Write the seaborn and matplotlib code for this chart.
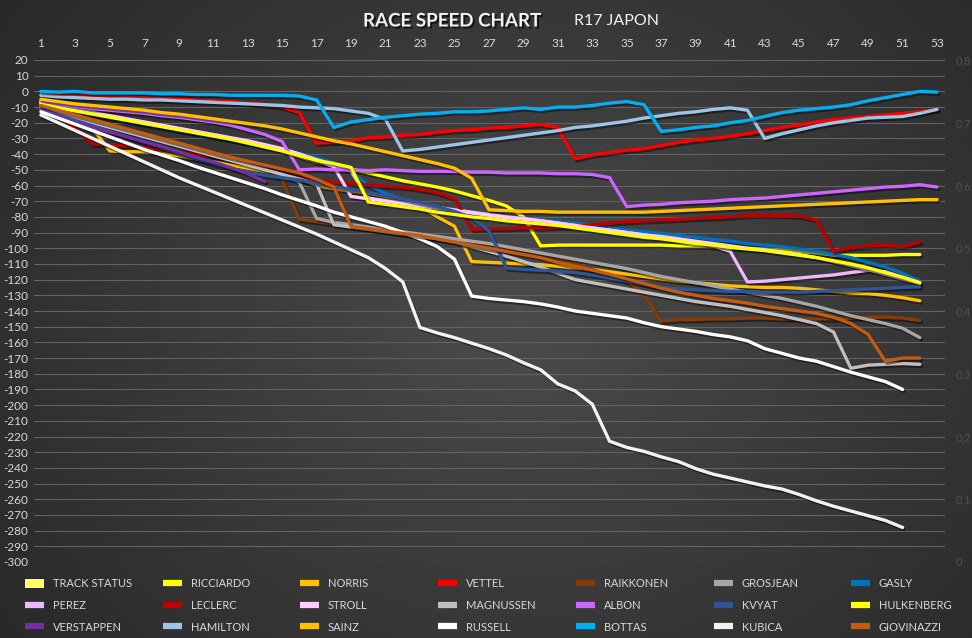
import numpy as np
import pandas as pd
import matplotlib
matplotlib.use("Agg")
import matplotlib.pyplot as plt
import matplotlib.patheffects as pe
from matplotlib.lines import Line2D
from matplotlib.patches import Patch
from matplotlib import font_manager as fm
import seaborn as sns

nan = np.nan
laps = list(range(1, 54))

# ---------------- data (gap values) ----------------
ricciardo = [-7, -9.5, -12, -14, -16, -18, -20, -22, -24, -26,
             -28, -30, -32.5, -35, -38, -41.5, -45, -47, -49.5, -52,
             -54.5, -57, -59, -61, -63.5, -66.5, -69.5, -73, -80, -98.5,
             -98, -98, -98, -98, -98, -98, -98, -98.5, -98.5, -99,
             -99.5, -100, -100.5, -101, -102, -103, -104.5, -104.5, -104.5, -104.5,
             -104, -104, nan]
norris = [-6, -13, -18.5, -23.5, -38, -38.5, -38.5, -39.5, -41, -43,
          -45, -47, -49, -51, -53.5, -56, -60, -62, -63.5, -65,
          -67, -69, -73, -80, -86, -108.5, -109, -109.5, -110, -110.5,
          -111.5, -112.5, -113.5, -115, -116.5, -118, -119.5, -121, -122, -123,
          -124, -124.5, -125, -125, -125.5, -126.5, -127.5, -128.5, -129, -130,
          -131.5, -133.5, nan]
vettel = [-2, -2.5, -2.5, -3, -3, -3.5, -4, -4.5, -5, -5.5,
          -6, -6.5, -7.5, -8.5, -10, -13.5, -33, -32.5, -31.5, -29.5,
          -29, -28, -27.5, -26, -25, -24.5, -23.5, -23, -22, -21,
          -23, -43, -40.5, -39, -37.5, -36.5, -34.5, -32.5, -31, -30,
          -28.5, -27, -25, -23, -21.5, -19.5, -18, -17, -16, -15,
          -14, -13, -11.5]
raikkonen = [-9, -12, -15, -18, -21, -24, -27, -30, -33, -36,
             -39, -42, -45.5, -49, -56, -81.5, -83, -84.5, -86, -87.5,
             -89, -90.5, -92, -93.5, -95, -97, -98.5, -100, -101.5, -103.5,
             -106.5, -110, -113.5, -117.5, -121, -129, -146.5, -145.5, -145.5, -145,
             -145, -144.5, -144.5, -145, -145, -145, -145, -144.5, -144, -144,
             -144.5, -146, nan]
grosjean = [-10, -13, -16, -19, -22, -25, -28, -31, -34, -37,
            -40, -43, -46, -49.5, -53, -58, -81, -83.5, -85, -86.5,
            -88, -89.5, -91, -92.5, -94, -95.5, -97, -99, -101, -103,
            -105, -107, -109, -111, -113, -115.5, -118, -120, -122, -124,
            -126, -128, -130, -132, -134.5, -137, -140, -143, -145.5, -148,
            -151, -157, nan]
gasly = [-9, -11, -13, -15, -17, -19, -21, -23, -25, -27,
         -29, -31, -33, -35, -37, -39.5, -42.5, -45.5, -51, -60,
         -65, -69, -72, -74.5, -76.5, -78, -79, -80, -81, -82,
         -83, -84, -85.5, -87, -88.5, -89.5, -90.5, -92, -93, -94.5,
         -95.5, -97, -98, -99, -100.5, -102, -104, -106, -109, -112,
         -116, -121, nan]
perez = [-7.5, -10, -12, -14, -16, -18, -20, -22, -24, -26,
         -28, -30, -32, -34.5, -37, -40, -43.5, -47, -51, -68,
         -69.5, -71, -72.5, -74, -75.5, -77, -78.5, -80, -81, -82.5,
         -84, -85.5, -87, -88.5, -90, -91.5, -93, -94.5, -96, -98.5,
         -102, -121.5, -121, -120, -119, -118, -117, -115.5, -114, -115,
         -118.5, -122, nan]
leclerc = [-8, -16, -23.5, -33.5, -34, -34.5, -35.5, -37, -38.5, -40,
           -41.5, -43, -45, -47, -49.5, -53, -57, -58, -59, -59.5,
           -60.5, -61, -62.5, -64.5, -68.5, -88, -87.5, -87.5, -87, -87,
           -86.5, -86, -85, -84, -83, -82.5, -82, -81.5, -81, -80.5,
           -80, -79, -79, -79, -79.5, -82, -102, -99.5, -98.5, -98,
           -99, -96, nan]
stroll = [-7, -9.5, -11.5, -13.5, -15.5, -17.5, -19.5, -21.5, -23.5, -25.5,
          -27.5, -29.5, -31.5, -34, -36.5, -40, -44, -48, -67, -68.5,
          -70, -71.5, -73, -74.5, -76, -77.5, -79, -80.5, -81.5, -82.5,
          -84, -85.5, -87, -88.5, -90, -91.5, -92.5, -94, -95.5, -97,
          -98.5, -100, -101, -102.5, -104, -106, -108.5, -111, -113.5, -116.5,
          -119.5, -122.5, nan]
magnussen = [-11, -14, -17, -20, -23, -26, -29, -32, -35, -38,
             -41, -44, -47, -50, -53, -56, -59, -85, -86.5, -88,
             -89.5, -91, -92.5, -94, -96, -99, -102, -105, -108.5, -112,
             -116, -120, -122, -124, -126, -128, -130, -132, -134, -135.5,
             -137, -139, -141, -143, -145.5, -148, -153.5, -176.5, -174.5, -174,
             -173.5, -174, nan]
albon = [-6, -8, -9.5, -11, -12, -13, -14, -15.5, -16.5, -18,
         -19.5, -21.5, -24.5, -27.5, -32, -50, -49.5, -50, -50, -50.5,
         -50, -50.5, -51, -51, -51, -51.5, -51.5, -52, -52, -52,
         -52.5, -52.5, -53, -55, -73.5, -72.5, -72, -71, -70.5, -70,
         -69, -68.5, -68, -67, -66, -65, -64, -63, -62, -61,
         -60.5, -59.5, -61]
kvyat = [-11, -15, -18.5, -22, -25.5, -29, -32.5, -36, -39.5, -43,
         -46, -49, -51.5, -53.5, -55, -56.5, -58.5, -60.5, -62.5, -64.5,
         -66.5, -68.5, -71, -73.5, -76.5, -80.5, -89, -112.5, -113.5, -114,
         -114.5, -115.5, -117, -119, -121, -123, -125, -126, -126.5, -127,
         -127.5, -127.5, -128, -128, -128, -127.5, -127, -126.5, -126, -125.5,
         -125, -124.5, nan]
hulkenberg = [-8, -10.5, -12.5, -14.5, -16.5, -18.5, -20.5, -22.5, -24.5, -26.5,
              -28.5, -30.5, -33, -35.5, -38, -41, -44, -46, -48.5, -70.5,
              -72, -73.5, -75, -77, -78.5, -80, -81, -82.5, -83.5, -84.5,
              -85.5, -87, -88.5, -90, -91.5, -93, -94, -95.5, -97, -98,
              -99.5, -100.5, -101.5, -103, -104.5, -106, -108, -110, -112.5, -115.5,
              -118.5, -122, nan]
verstappen = [-12, -16, -19.5, -23, -26, -29, -32, -35, -38.5, -42,
              -45, -48.5, -52.5, -57.5] + [nan] * 39
hamilton = [-2.5, -3.5, -4, -4.5, -5, -5, -5.5, -5.5, -6, -6.5,
            -7, -7.5, -8, -8.5, -9, -10, -10.5, -11, -12.5, -14,
            -18, -38, -37, -35.5, -34, -32.5, -31, -29.5, -28, -26.5,
            -25, -23, -22, -20.5, -19, -17, -15.5, -14, -13, -11.5,
            -10.5, -12, -30, -27, -24.5, -22, -20, -18.5, -17, -16.5,
            -16, -14, -11.5]
sainz = [-5, -6.5, -8, -9, -10, -11, -12, -13.5, -14.5, -16,
         -17.5, -19, -20.5, -22, -24, -26.5, -29, -31.5, -33.5, -36,
         -38.5, -41, -43.5, -46, -49, -55.5, -75.5, -76, -76.5, -76.5,
         -77, -77, -77, -77, -77, -77, -76.5, -76, -75.5, -75,
         -74.5, -74, -73.5, -73, -72.5, -72, -71.5, -71, -70.5, -70,
         -69.5, -69, -69]
russell = [-13, -17, -21, -25, -29, -33, -37, -40.5, -44, -48,
           -51.5, -55, -58.5, -62, -66, -69.5, -73, -77, -80, -83,
           -86, -90, -94, -99, -107, -130.5, -132, -133, -134, -135.5,
           -137.5, -140, -141.5, -143, -144.5, -147.5, -150, -151.5, -153, -155,
           -156.5, -159, -164, -167, -170, -172, -175.5, -179, -182, -185,
           -190, nan, nan]
bottas = [0, -0.5, 0, -1, -1, -1, -1, -1.5, -1.5, -2,
          -2, -2.5, -2.5, -2.5, -2.5, -3, -5.5, -23, -19.5, -18,
          -16.5, -15.5, -14.5, -14, -13, -13, -12.5, -11.5, -10.5, -11.5,
          -10, -10, -9, -7.5, -6.5, -8.5, -25.5, -24.5, -23, -22,
          -20, -18.5, -16, -13.5, -12, -11, -10, -8.5, -6, -4,
          -2, 0, -0.5]
kubica = [-15, -20, -25, -30, -35, -40, -45, -50, -55, -59.5,
          -64, -68.5, -73, -77.5, -82, -86.5, -91, -96, -101, -106,
          -113, -121.5, -150.5, -154, -157, -160.5, -164, -168, -173, -177.5,
          -186.5, -191, -199.5, -223, -227, -229.5, -233, -236, -240.5, -244,
          -246.5, -249, -251.5, -253.5, -257, -261, -264.5, -267.5, -270.5, -273.5,
          -278, nan, nan]
giovinazzi = [-9, -12, -15, -18, -21, -24, -27, -30, -33, -36,
              -39, -42, -44.5, -47, -49.5, -52, -56, -61, -86, -87.5,
              -89, -90.5, -92, -94, -96, -98, -100, -102, -104, -106,
              -109, -111.5, -114, -116.5, -119.5, -122.5, -125.5, -128, -130, -132,
              -133.5, -135, -137, -138.5, -140, -141.5, -144, -148, -155, -172,
              -170, -170, nan]

drivers = ["RICCIARDO", "NORRIS", "VETTEL", "RAIKKONEN", "GROSJEAN", "GASLY",
           "PEREZ", "LECLERC", "STROLL", "MAGNUSSEN", "ALBON", "KVYAT", "HULKENBERG",
           "VERSTAPPEN", "HAMILTON", "SAINZ", "RUSSELL", "BOTTAS", "KUBICA", "GIOVINAZZI"]
series = [ricciardo, norris, vettel, raikkonen, grosjean, gasly,
          perez, leclerc, stroll, magnussen, albon, kvyat, hulkenberg,
          verstappen, hamilton, sainz, russell, bottas, kubica, giovinazzi]
colors = ["#FFFF00", "#FFC000", "#FF0000", "#843C0C", "#A6A6A6", "#0070C0",
          "#EDB8F7", "#C00000", "#FFCCFF", "#BFBFBF", "#CC66FF", "#2F5597", "#FFFF00",
          "#7030A0", "#9DC3E6", "#FFC000", "#FFFFFF", "#00B0F0", "#F2F2F2", "#C55A11"]
track_status_label = "TRACK STATUS"
track_status_color = "#FFFF66"
right_ticks = [0, 0.1, 0.2, 0.3, 0.4, 0.5, 0.6, 0.7, 0.8]
title_main = "RACE SPEED CHART"
title_sub = "R17 JAPON"

rows = []
for name, vals in zip(drivers, series):
    for lap, v in zip(laps, vals):
        if not np.isnan(v):
            rows.append((name, lap, v))
df = pd.DataFrame(rows, columns=["driver", "lap", "gap"])
palette = dict(zip(drivers, colors))

# ---------------- style ----------------
sns.set_theme(style="dark")
names = {f.name for f in fm.fontManager.ttflist}
main_font = "Lato" if "Lato" in names else "DejaVu Sans"
narrow = "Liberation Sans Narrow" if "Liberation Sans Narrow" in names else main_font
plt.rcParams["font.family"] = [main_font, "DejaVu Sans"]

W, H = 972, 638
fig = plt.figure(figsize=(W / 100, H / 100), dpi=100)

# radial gradient background
bg = fig.add_axes([0, 0, 1, 1], zorder=-10)
yy, xx = np.mgrid[0:H, 0:W]
r = np.sqrt(((xx - 520) / 620.0) ** 2 + ((yy - 320) / 520.0) ** 2)
val = 0.295 - 0.13 * np.clip(r, 0, 1.3)
img = np.dstack([val, val, val])
bg.imshow(img, extent=[0, 1, 0, 1], aspect="auto", origin="upper")
bg.set_axis_off()

ax = fig.add_axes([34 / W, 1 - 562 / H, (945 - 34) / W, (562 - 60) / H])
ax.set_facecolor("none")

sns.lineplot(data=df, x="lap", y="gap", hue="driver", hue_order=drivers,
             palette=palette, estimator=None, sort=False, linewidth=2.4,
             legend=False, ax=ax)
for ln in ax.lines:
    ln.set_solid_joinstyle("round")
    ln.set_solid_capstyle("round")
    ln.set_path_effects([pe.SimpleLineShadow(offset=(1.2, -1.5), shadow_color="black", alpha=0.45),
                         pe.Normal()])

ax.set_xlim(0.6, 53.46)
ax.set_ylim(-300, 20)
ax.set_yticks(np.arange(-300, 21, 10))
ax.set_yticklabels([str(int(t)) for t in np.arange(-300, 21, 10)])
ax.set_xticks(laps[::2])
ax.xaxis.tick_top()
ax.xaxis.set_label_position("top")
ax.set_xlabel("")
ax.set_ylabel("")
ax.grid(False)
ax.yaxis.grid(True, color="#626262", linewidth=0.8)
ax.set_axisbelow(True)
ax.tick_params(axis="y", length=0, pad=4, labelsize=8.5, labelcolor="#D9D9D9")
ax.tick_params(axis="x", length=0, pad=8, labelsize=8.5, labelcolor="#D9D9D9")
for s in ax.spines.values():
    s.set_visible(False)

ax2 = ax.twinx()
ax2.set_ylim(0, 0.8)
ax2.set_yticks(right_ticks)
ax2.set_yticklabels([("%g" % t).replace(".", ",") for t in right_ticks])
ax2.tick_params(axis="y", length=0, pad=8, labelsize=8, labelcolor="#505050")
ax2.grid(False)
for s in ax2.spines.values():
    s.set_visible(False)

# title
fig.text(363 / W, 1 - 21 / H, title_main, fontsize=13.5, fontweight="bold", color="#F2F2F2",
         ha="left", va="center",
         path_effects=[pe.SimplePatchShadow(offset=(1.5, -1.5), shadow_rgbFace="black", alpha=0.6),
                       pe.Normal()])
fig.text(574 / W, 1 - 21 / H, title_sub, fontsize=11.5, color="#F2F2F2",
         ha="left", va="center")

# legend (7 columns, row-major as in reference)
labels = [track_status_label] + drivers
handles = [Patch(facecolor=track_status_color, edgecolor="none")]
for c in colors:
    handles.append(Line2D([0], [0], color=c, linewidth=4.5, solid_capstyle="butt"))
col_x = [25, 163, 300, 438, 576, 714, 851]
for ci, x0 in enumerate(col_x):
    idx = [ci + 7 * rr for rr in range(3)]
    leg = fig.legend([handles[i] for i in idx], [labels[i] for i in idx],
                     loc="upper left", bbox_to_anchor=(x0 / W, 1 - 578 / H),
                     frameon=False, borderpad=0, borderaxespad=0,
                     handlelength=1.7, handleheight=0.9, handletextpad=0.8,
                     labelspacing=0.97, prop={"family": narrow, "size": 8})
    for t in leg.get_texts():
        t.set_color("#D9D9D9")

fig.savefig("out.png", dpi=100)
